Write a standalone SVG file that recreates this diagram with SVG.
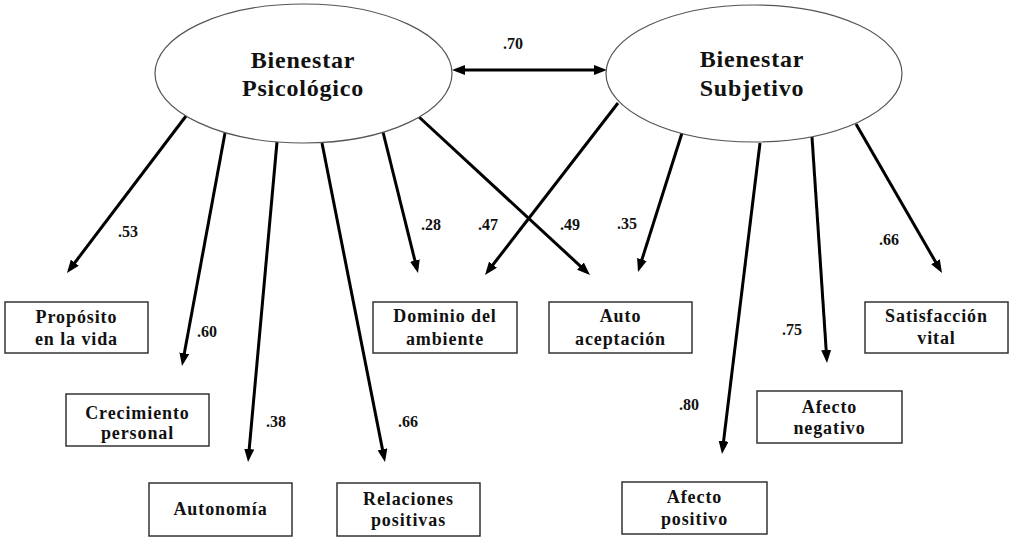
<svg xmlns="http://www.w3.org/2000/svg" width="1012" height="540" viewBox="0 0 1012 540">
<style>
.lat{fill:#fff;stroke:#555;stroke-width:1.2}
.box{fill:#fff;stroke:#333;stroke-width:1.5}
.t{font-family:"Liberation Serif","Times New Roman",serif;font-weight:bold;fill:#111;text-anchor:middle}
.lt{font-size:24px;letter-spacing:0.8px}
.bt{font-size:18px;letter-spacing:0.9px}
.num{font-size:16px}
.arr{stroke:#000;stroke-width:3;fill:none;marker-end:url(#ah)}
</style>
<defs>
<marker id="ah" markerUnits="userSpaceOnUse" markerWidth="13" markerHeight="10" refX="8" refY="5" orient="auto-start-reverse" viewBox="0 0 13 10">
<path d="M0,0 L13,5 L0,10 z" fill="#000"/>
</marker>
</defs>
<rect width="1012" height="540" fill="#fff"/>
<g id="connectors">
<line class="arr" x1="457" y1="70" x2="602" y2="70" style="marker-start:url(#ah)"/>
<line class="arr" x1="186" y1="116" x2="70" y2="269"/>
<line class="arr" x1="225" y1="133" x2="182.9" y2="361.1"/>
<line class="arr" x1="277" y1="142" x2="248.5" y2="457"/>
<line class="arr" x1="322" y1="143" x2="384" y2="457.1"/>
<line class="arr" x1="383" y1="132" x2="416.8" y2="268.2"/>
<line class="arr" x1="419" y1="117" x2="586.3" y2="271.6"/>
<line class="arr" x1="618" y1="103" x2="488.1" y2="271"/>
<line class="arr" x1="682" y1="133" x2="639.5" y2="267.2"/>
<line class="arr" x1="760" y1="143" x2="722.6" y2="449"/>
<line class="arr" x1="812" y1="137" x2="826.7" y2="358"/>
<line class="arr" x1="856" y1="124" x2="939.5" y2="268.7"/>
</g>
<g id="labels" class="t num">
<text x="513" y="49">.70</text>
<text x="128" y="237">.53</text>
<text x="207" y="337">.60</text>
<text x="276" y="427">.38</text>
<text x="408" y="427">.66</text>
<text x="431" y="230">.28</text>
<text x="488" y="230">.47</text>
<text x="570" y="230">.49</text>
<text x="627" y="229">.35</text>
<text x="689" y="410">.80</text>
<text x="792" y="335">.75</text>
<text x="889" y="245">.66</text>
</g>
<g id="bienestar-psicologico">
<ellipse class="lat" cx="303.5" cy="73.5" rx="148.5" ry="69.5"/>
<text class="t lt" x="303" y="68">Bienestar</text>
<text class="t lt" x="303" y="96">Psicológico</text>
</g>
<g id="bienestar-subjetivo">
<ellipse class="lat" cx="754" cy="73.5" rx="148" ry="68.5"/>
<text class="t lt" x="752" y="67">Bienestar</text>
<text class="t lt" x="752" y="96">Subjetivo</text>
</g>
<g id="proposito">
<rect class="box" x="5" y="302" width="143" height="51"/>
<text class="t bt" x="76.5" y="323">Propósito</text>
<text class="t bt" x="76.5" y="345">en la vida</text>
</g>
<g id="crecimiento">
<rect class="box" x="66" y="394" width="143" height="52"/>
<text class="t bt" x="137.5" y="419">Crecimiento</text>
<text class="t bt" x="137.5" y="439">personal</text>
</g>
<g id="autonomia">
<rect class="box" x="149" y="483" width="143" height="53"/>
<text class="t bt" x="220.5" y="515">Autonomía</text>
</g>
<g id="relaciones">
<rect class="box" x="337" y="483" width="143" height="53"/>
<text class="t bt" x="408.5" y="505">Relaciones</text>
<text class="t bt" x="408.5" y="526">positivas</text>
</g>
<g id="dominio">
<rect class="box" x="373" y="302" width="144" height="51"/>
<text class="t bt" x="445" y="322">Dominio del</text>
<text class="t bt" x="445" y="345">ambiente</text>
</g>
<g id="autoaceptacion">
<rect class="box" x="549" y="302" width="143" height="51"/>
<text class="t bt" x="620.5" y="322">Auto</text>
<text class="t bt" x="620.5" y="345">aceptación</text>
</g>
<g id="afecto-positivo">
<rect class="box" x="622" y="482" width="145" height="52"/>
<text class="t bt" x="694.5" y="503">Afecto</text>
<text class="t bt" x="694.5" y="525">positivo</text>
</g>
<g id="afecto-negativo">
<rect class="box" x="757" y="391" width="145" height="52"/>
<text class="t bt" x="829.5" y="413">Afecto</text>
<text class="t bt" x="829.5" y="434">negativo</text>
</g>
<g id="satisfaccion">
<rect class="box" x="865" y="302" width="143" height="51"/>
<text class="t bt" x="936.5" y="322">Satisfacción</text>
<text class="t bt" x="936.5" y="344">vital</text>
</g>
</svg>
